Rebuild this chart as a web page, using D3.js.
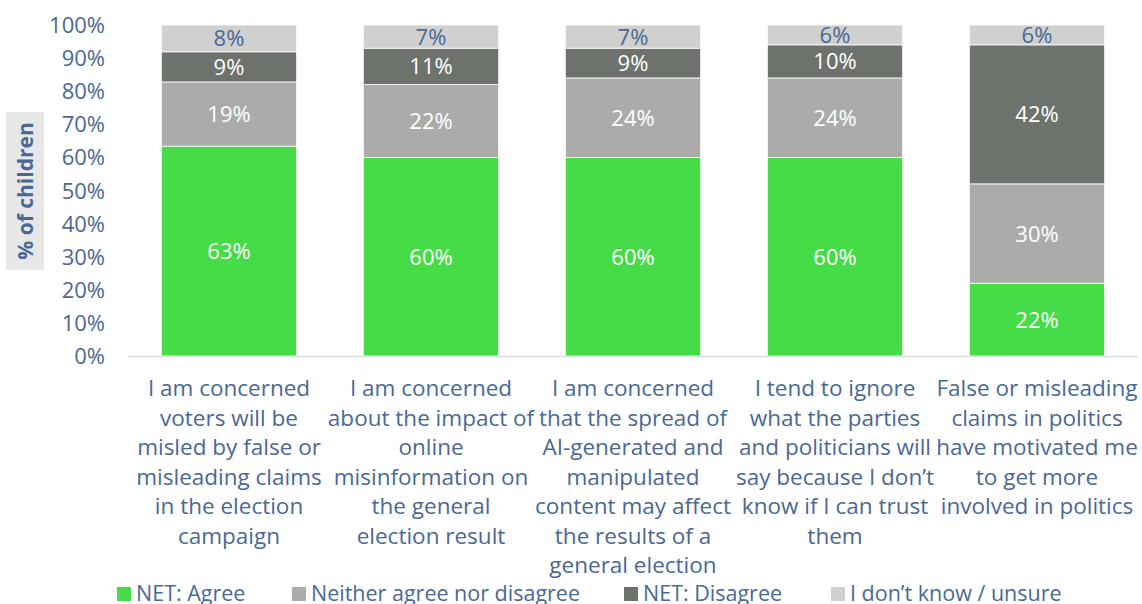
<!DOCTYPE html>
<html>
<head>
<meta charset="utf-8">
<script src="https://cdn.jsdelivr.net/npm/d3@7"></script>
<style>
  body { margin: 0; background: #fff; }
  svg text { font-family: "Open Sans", Lato, sans-serif; }
</style>
</head>
<body>
<svg id="chart" width="1142" height="604"></svg>
<script>
// statements, one per bar (already wrapped like the original)
var categories = [
  ["I am concerned", "voters will be", "misled by false or", "misleading claims", "in the election", "campaign"],
  ["I am concerned", "about the impact of", "online", "misinformation on", "the general", "election result"],
  ["I am concerned", "that the spread of", "AI-generated and", "manipulated", "content may affect", "the results of a", "general election"],
  ["I tend to ignore", "what the parties", "and politicians will", "say because I don\u2019t", "know if I can trust", "them"],
  ["False or misleading", "claims in politics", "have motivated me", "to get more", "involved in politics"]
];
var seriesNames = ["NET: Agree", "Neither agree nor disagree", "NET: Disagree", "I don\u2019t know / unsure"];
var agree     = [63.4, 60, 60, 60, 22];
var neither   = [19.4, 22, 24, 24, 30];
var disagree  = [9.1, 11, 9, 10, 42];
var dontKnow  = [8.1, 7, 7, 6, 6];
var yTicks = [0, 10, 20, 30, 40, 50, 60, 70, 80, 90, 100];

var colors = ["#45dc47", "#abacaa", "#6e726d", "#d0d1cf"];
var labelColors = ["#ffffff", "#ffffff", "#ffffff", "#4a6896"];
var textColor = "#4a6896";

var svg = d3.select("#chart");
var margin = {top: 25, left: 128, right: 4, bottom: 248};
var W = 1142, H = 604;
var plotH = H - margin.top - margin.bottom;

var x = d3.scaleBand().domain(d3.range(categories.length))
  .range([margin.left, W - margin.right]).paddingInner(0.33).paddingOuter(0.165);
var y = d3.scaleLinear().domain([0, 100]).range([margin.top + plotH, margin.top]);

// rows for stacking
var rows = categories.map(function (c, i) {
  return {i: i, s0: agree[i], s1: neither[i], s2: disagree[i], s3: dontKnow[i]};
});
var stack = d3.stack().keys(["s0", "s1", "s2", "s3"])(rows);

// y axis labels
svg.append("g").selectAll("text").data(yTicks).join("text")
  .attr("x", 105).attr("y", function (d) { return y(d) + 8; })
  .attr("text-anchor", "end").attr("font-size", 22).attr("fill", textColor)
  .text(function (d) { return d + "%"; });

// y title with grey box
svg.append("rect").attr("x", 6).attr("y", 112).attr("width", 38).attr("height", 158).attr("fill", "#e7e7e7");
svg.append("text").attr("transform", "translate(33,191) rotate(-90)")
  .attr("text-anchor", "middle").attr("font-size", 21).attr("font-weight", "bold")
  .attr("fill", textColor).text("% of children");

// bars
var layers = svg.append("g").selectAll("g").data(stack).join("g")
  .attr("fill", function (d, k) { return colors[k]; });
layers.selectAll("rect").data(function (d) { return d; }).join("rect")
  .attr("x", function (d) { return x(d.data.i); })
  .attr("width", x.bandwidth())
  .attr("y", function (d) { return y(d[1]); })
  .attr("height", function (d) { return y(d[0]) - y(d[1]); })
  .attr("stroke", "#ffffff").attr("stroke-width", 0.8);

// value labels
stack.forEach(function (layer, k) {
  svg.append("g").selectAll("text").data(layer).join("text")
    .attr("x", function (d) { return x(d.data.i) + x.bandwidth() / 2; })
    .attr("y", function (d) { return (y(d[0]) + y(d[1])) / 2 + 8; })
    .attr("text-anchor", "middle").attr("font-size", 22)
    .attr("fill", labelColors[k])
    .text(function (d) { return Math.round(d[1] - d[0]) + "%"; });
});

// x axis line
svg.append("line").attr("x1", margin.left).attr("x2", W - 4)
  .attr("y1", y(0) + 0.5).attr("y2", y(0) + 0.5)
  .attr("stroke", "#d9dbe3").attr("stroke-width", 1.5);

// category labels
var cat = svg.append("g").selectAll("text").data(categories).join("text")
  .attr("text-anchor", "middle").attr("font-size", 22.5).attr("fill", textColor)
  .attr("transform", function (d, i) { return "translate(" + (x(i) + x.bandwidth() / 2) + ",396)"; });
cat.selectAll("tspan").data(function (d) { return d; }).join("tspan")
  .attr("x", 0).attr("y", function (d, j) { return j * 29.5; })
  .text(function (d) { return d; });

// legend
var legX = [117, 292, 624, 831];
var leg = svg.append("g").selectAll("g").data(seriesNames).join("g")
  .attr("transform", function (d, k) { return "translate(" + legX[k] + ",587)"; });
leg.append("rect").attr("width", 14).attr("height", 14).attr("fill", function (d, k) { return colors[k]; });
leg.append("text").attr("x", 19).attr("y", 14).attr("font-size", 21.5).attr("fill", textColor)
  .text(function (d) { return d; });
</script>
</body>
</html>
